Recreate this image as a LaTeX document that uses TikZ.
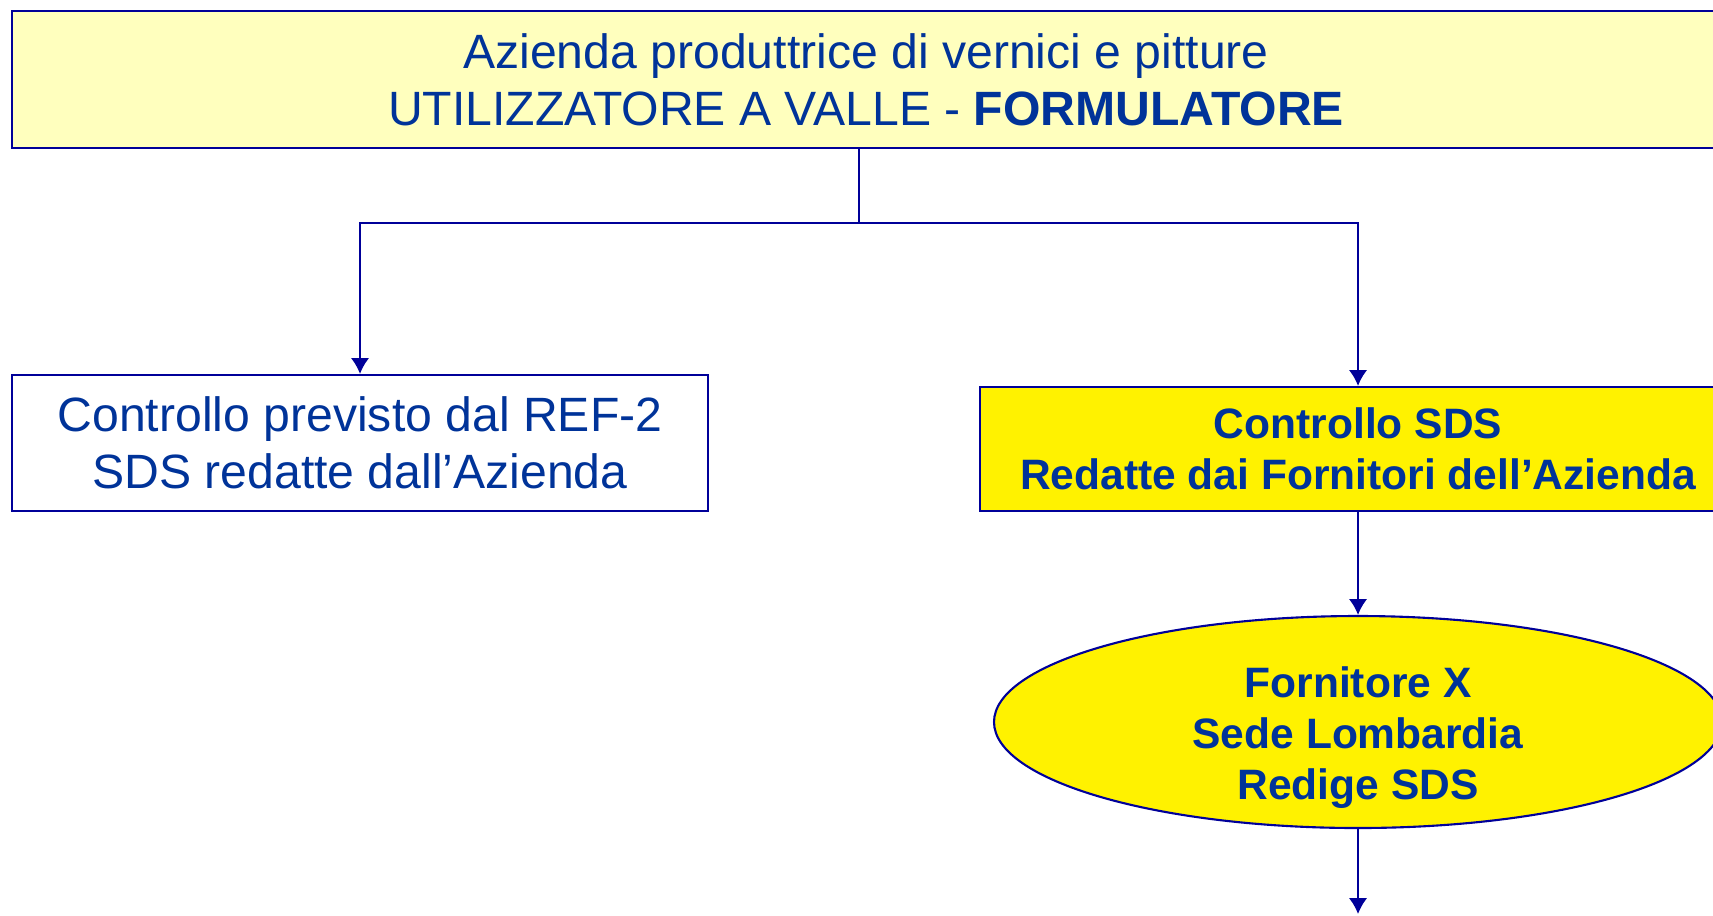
\documentclass[tikz,border=0pt]{standalone}
\usepackage{fontspec}
\setmainfont{Liberation Sans}
\usetikzlibrary{positioning, arrows.meta, shapes.geometric}
\definecolor{txtblue}{RGB}{0,51,153}
\definecolor{lineblue}{RGB}{0,0,153}
\definecolor{paleyellow}{RGB}{255,255,190}

\begin{document}
\begin{tikzpicture}[>={Latex[length=4.5pt,width=5.2pt]}, line width=0.6pt,
  box/.style={draw=lineblue, text=txtblue, align=center, inner sep=0pt},
  regtext/.style={font=\fontsize{13.7}{16.2}\selectfont},
  boldtext/.style={font=\fontsize{12.1}{14.5}\selectfont\bfseries}]
  \useasboundingbox (0,0) rectangle (17.13,-9.15);
  \clip (0,0) rectangle (17.13,-9.15);
  % boxes
  \node[box, regtext, fill=paleyellow, minimum width=17.08cm, minimum height=1.37cm]
    (azienda) at (8.66,-0.795) {Azienda produttrice di vernici e pitture\\UTILIZZATORE A VALLE - \textbf{FORMULATORE}};
  \node[box, regtext, minimum width=6.96cm, minimum height=1.36cm]
    (ref) at (3.60,-4.43) {Controllo previsto dal REF-2\\SDS redatte dall’Azienda};
  \node[box, boldtext, fill=yellow, minimum width=7.56cm, minimum height=1.24cm]
    (sds) at (13.58,-4.49) {Controllo SDS\\Redatte dai Fornitori dell’Azienda};
  \node[box, fill=yellow, ellipse, minimum width=7.28cm, minimum height=2.12cm,
    label={[boldtext, text=txtblue, align=center, yshift=-0.16cm]center:Fornitore X\\Sede Lombardia\\Redige SDS}]
    (fornx) at (13.58,-7.22) {};
  % connectors
  \coordinate (split) at (8.59,-2.23);
  \coordinate (down) at (13.58,-9.14);
  \draw [lineblue] (split |- azienda.south) -- (split);
  \draw [lineblue, ->] (split) -| (ref.north);
  \draw [lineblue, ->] (split) -| (sds.north);
  \draw [lineblue, ->] (sds) -- (fornx);
  \draw [lineblue, ->] (fornx) -- (down);
\end{tikzpicture}
\end{document}
